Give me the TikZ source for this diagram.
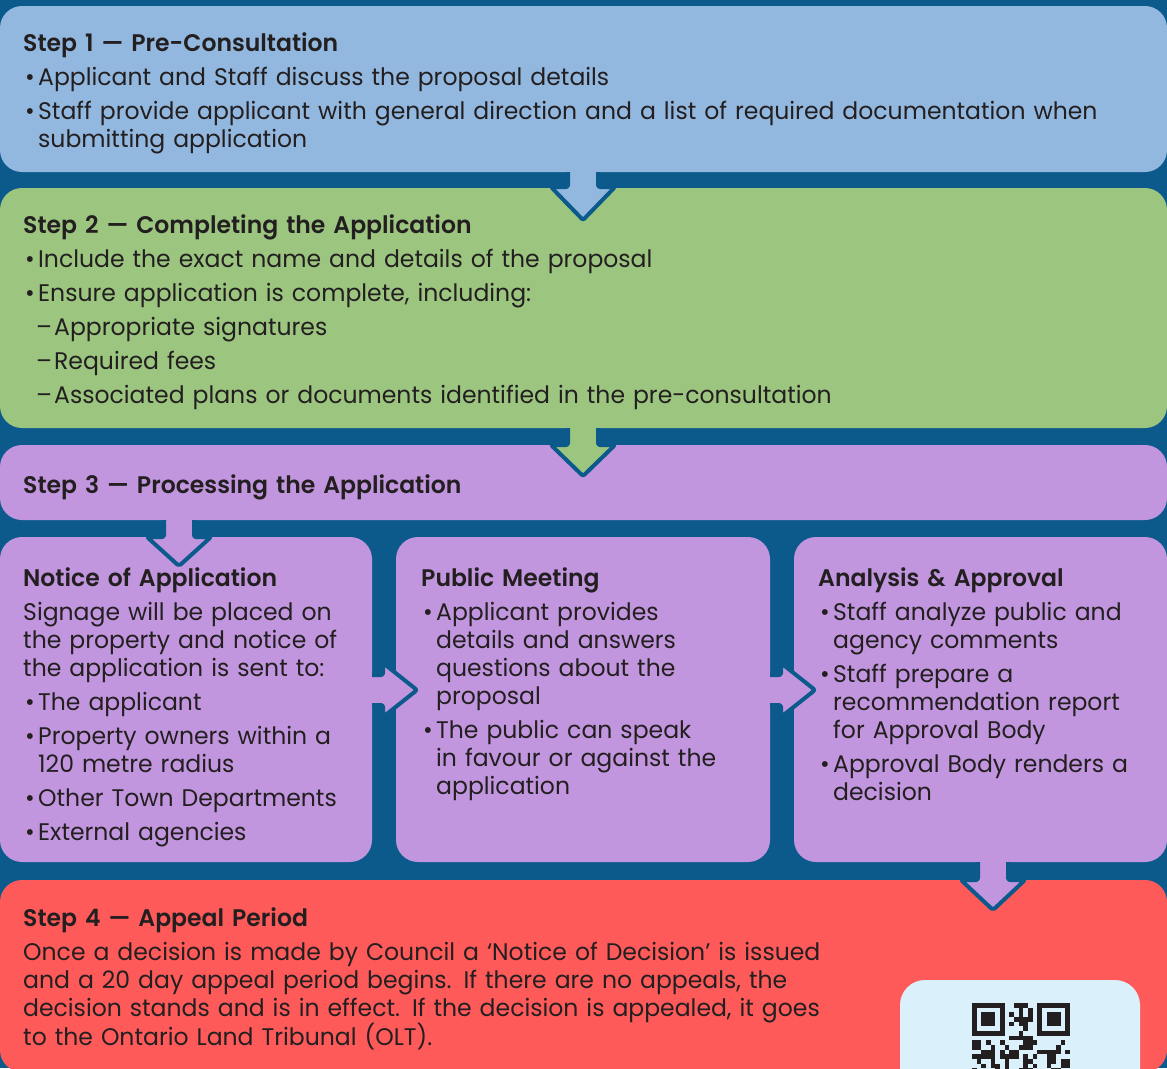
\documentclass[tikz,border=0pt]{standalone}
\usepackage{fontspec}
\setmainfont{Poppins}[FakeStretch=0.98,BoldFont={Poppins SemiBold}]
\definecolor{bg}{HTML}{0B5A8B}
\definecolor{cone}{HTML}{93B8DF}
\definecolor{ctwo}{HTML}{9CC680}
\definecolor{cthree}{HTML}{C196DE}
\definecolor{cfour}{HTML}{FF5A5A}
\definecolor{qrbg}{HTML}{DAF1FB}
\definecolor{ink}{HTML}{231F20}
\newcommand\bitem[1]{\par\hangindent=15pt\hangafter=1\noindent\makebox[15pt][l]{\hspace{2pt}•}#1}
\newcommand\ditem[1]{\par\hangindent=31pt\hangafter=1\noindent\hspace*{13pt}\makebox[18pt][l]{–}#1}
\newcommand\blkstart{\setlength{\parskip}{6pt}}
\newcommand\varr[5]{% x, stem top, head top, tip, colour
  \fill[#5] (#1-15,#2) -- (#1-15,#3) -- (#1-32,#3) -- (#1,#4) -- (#1+32,#3) -- (#1+15,#3) -- (#1+15,#2) -- cycle;
  \draw[arrline] (#1-15,#2) -- (#1-15,#3) -- (#1-32,#3) -- (#1,#4) -- (#1+32,#3) -- (#1+15,#3) -- (#1+15,#2);}
\newcommand\harr[5]{% y, stem start, head back, tip, colour
  \fill[#5] (#2,#1-15) -- (#3,#1-15) -- (#3,#1-27) -- (#4,#1) -- (#3,#1+27) -- (#3,#1+15) -- (#2,#1+15) -- cycle;
  \draw[arrline] (#2,#1-15) -- (#3,#1-15) -- (#3,#1-27) -- (#4,#1) -- (#3,#1+27) -- (#3,#1+15) -- (#2,#1+15);}
\begin{document}
\begin{tikzpicture}[x=1pt,y=-1pt,
  box/.style={rounded corners=22pt},
  arrline/.style={draw=bg,line width=4pt,rounded corners=2pt,line join=round},
  txt/.style={anchor=base west,inner sep=0pt,align=left,text=ink,font=\fontsize{24}{28}\selectfont},
  wide/.style={txt,text width=1140pt},
  narrow/.style={txt,text width=365pt}]
\useasboundingbox (0,0) rectangle (1167,1068);
\fill[bg] (0,0) rectangle (1167,1068);
% boxes
\fill[cone,box] (0,6) rectangle (1167,172);
\fill[ctwo,box] (0,188) rectangle (1167,428);
\fill[cthree,box] (0,445) rectangle (1167,520);
\fill[cthree,box] (0,537) rectangle (372,862);
\fill[cthree,box] (396,537) rectangle (770,862);
\fill[cthree,box] (794,537) rectangle (1167,862);
\fill[cfour,box] (0,880) rectangle (1167,1072);
% arrows
\varr{583}{172}{187}{220}{cone}
\varr{583}{428}{445}{476}{ctwo}
\varr{179}{520}{537}{566}{cthree}
\varr{993}{862}{880}{910}{cthree}
\harr{690}{372}{383}{417}{cthree}
\harr{690}{770}{781}{815}{cthree}
% texts
\node[wide] (s1) at (23,51) {\blkstart\textbf{Step 1 — Pre-Consultation}
\bitem{Applicant and Staff discuss the proposal details}
\bitem{Staff provide applicant with general direction and a list of required documentation when\newline submitting application}\par};
\node[wide] (s2) at (23,233) {\blkstart\textbf{Step 2 — Completing the Application}
\bitem{Include the exact name and details of the proposal}
\bitem{Ensure application is complete, including:}
\ditem{Appropriate signatures}
\ditem{Required fees}
\ditem{Associated plans or documents identified in the pre-consultation}\par};
\node[wide] (s3) at (23,493) {\textbf{Step 3 — Processing the Application}};
\node[narrow] (na) at (23,586) {\blkstart\textbf{Notice of Application}
\par Signage will be placed on\newline the property and notice of\newline the application is sent to:
\bitem{The applicant}
\bitem{Property owners within a\newline 120 metre radius}
\bitem{Other Town Departments}
\bitem{External agencies}\par};
\node[narrow] (pm) at (421,586) {\blkstart\textbf{Public Meeting}
\bitem{Applicant provides\newline details and answers\newline questions about the\newline proposal}
\bitem{The public can speak\newline in favour or against the\newline application}\par};
\node[narrow] (aa) at (818,586) {\blkstart\textbf{Analysis \& Approval}
\bitem{Staff analyze public and\newline agency comments}
\bitem{Staff prepare a\newline recommendation report\newline for Approval Body}
\bitem{Approval Body renders a\newline decision}\par};
\node[wide] (s4) at (23,926) {\blkstart\textbf{Step 4 — Appeal Period}
\par Once a decision is made by Council a ‘Notice of Decision’ is issued\newline and a 20 day appeal period begins. If there are no appeals, the\newline decision stands and is in effect. If the decision is appealed, it goes\newline to the Ontario Land Tribunal (OLT).\par};
% QR panel
\fill[qrbg,rounded corners=25pt] (900,980) rectangle (1140,1120);
\begin{scope}[shift={(972,1003)}]
  \def\m{4.67}
  \foreach \cx in {0,14}{
    \fill[ink] (\cx*\m,0) rectangle ++(7*\m,7*\m);
    \fill[qrbg] (\cx*\m+\m,\m) rectangle ++(5*\m,5*\m);
    \fill[ink] (\cx*\m+2*\m,2*\m) rectangle ++(3*\m,3*\m);
  }
  \pgfmathsetseed{7}
  \foreach \r in {0,...,14}{
    \foreach \c in {0,...,20}{
      \pgfmathrandominteger{\v}{0}{99}
      \pgfmathtruncatemacro{\inf}{((\c<8)&&(\r<8)) || ((\c>12)&&(\r<8)) ? 1 : 0}
      \ifnum\inf=0
        \ifnum\v<48
          \fill[ink] (\c*\m,\r*\m) rectangle ++(\m,\m);
        \fi
      \fi
    }
  }
  \foreach \r in {0,2,4,6}{\fill[ink] (10*\m,\r*\m) rectangle ++(\m,\m);}
\end{scope}
\end{tikzpicture}
\end{document}
